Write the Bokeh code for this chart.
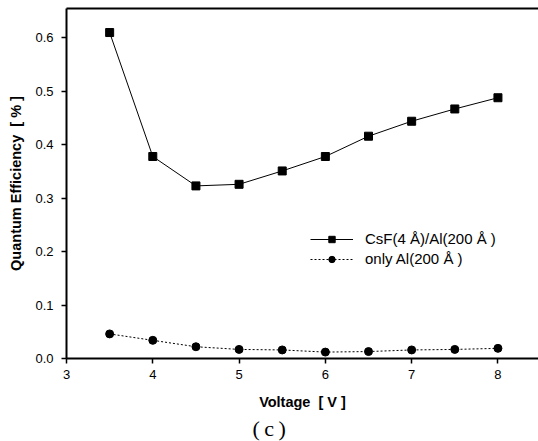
from bokeh.plotting import figure
from bokeh.models import Range1d, LinearAxis, Legend, LegendItem, Title, FixedTicker, NumeralTickFormatter
from bokeh.embed import file_html
from bokeh.resources import INLINE

# Voltage sweep and quantum efficiency (%) for the two cathodes
voltage = [3.5, 4.0, 4.5, 5.0, 5.5, 6.0, 6.5, 7.0, 7.5, 8.0]
qe_csf_al = [0.610, 0.378, 0.323, 0.326, 0.351, 0.378, 0.416, 0.444, 0.467, 0.488]
qe_al_only = [0.046, 0.034, 0.022, 0.017, 0.016, 0.012, 0.013, 0.016, 0.017, 0.019]
x_ticks = [3, 4, 5, 6, 7, 8]
y_ticks = [0.0, 0.1, 0.2, 0.3, 0.4, 0.5, 0.6]
series_labels = ["CsF(4 Å)/Al(200 Å )", "only Al(200 Å )"]

FONT = "Liberation Sans"
NB = "\u00a0"

p = figure(width=538, height=441, output_backend="svg", toolbar_location=None,
           x_range=Range1d(3, 8.47), y_range=Range1d(0, 0.655),
           min_border_left=66, min_border_right=0, min_border_top=8, min_border_bottom=83)
p.outline_line_color = None
p.grid.visible = False
p.background_fill_color = "white"
p.border_fill_color = "white"

for ax in (p.xaxis[0], p.yaxis[0]):
    ax.axis_line_width = 2
    ax.axis_line_color = "black"
    ax.major_tick_line_width = 1.5
    ax.major_tick_in = 0
    ax.major_tick_out = 5
    ax.minor_tick_line_color = None
    ax.major_label_text_font = FONT
    ax.major_label_text_font_size = "13px"
    ax.major_label_text_color = "black"
    ax.axis_label_text_font = FONT
    ax.axis_label_text_font_style = "bold"
    ax.axis_label_text_font_size = "14.5px"
    ax.axis_label_text_color = "black"

p.xaxis.ticker = FixedTicker(ticks=x_ticks)
p.yaxis.ticker = FixedTicker(ticks=y_ticks)
p.yaxis.formatter = NumeralTickFormatter(format="0.0")
p.xaxis.axis_label = "Voltage" + NB + NB + "[" + NB + "V" + NB + "]"
p.yaxis.axis_label = "Quantum" + NB + "Efficiency" + NB + NB + "[" + NB + "%" + NB + "]"
p.xaxis.major_label_standoff = 6
p.xaxis.axis_label_standoff = 12
p.yaxis.major_label_standoff = 8
p.yaxis.axis_label_standoff = 8

# top frame line
top = LinearAxis(axis_line_width=2, major_tick_line_color=None, minor_tick_line_color=None,
                 major_label_text_font_size="0px", ticker=FixedTicker(ticks=[]))
p.add_layout(top, "above")

l1 = p.line(voltage, qe_csf_al, line_color="black", line_width=1)
m1 = p.scatter(voltage, qe_csf_al, marker="square", size=8, fill_color="black", line_color="black")
l2 = p.line(voltage, qe_al_only, line_color="black", line_width=1, line_dash="2 2")
m2 = p.scatter(voltage, qe_al_only, marker="circle", size=8, fill_color="black", line_color="black")

legend = Legend(items=[LegendItem(label=series_labels[0], renderers=[l1, m1]),
                       LegendItem(label=series_labels[1], renderers=[l2, m2])],
                location=(244, 91), border_line_color=None, background_fill_alpha=0,
                padding=0, margin=0, spacing=3, glyph_width=43, glyph_height=16,
                label_height=16, label_standoff=12,
                label_text_font=FONT, label_text_font_size="15px", label_text_color="black")
p.add_layout(legend, "center")

# panel caption under the x-axis title
caption = Title(text="(\u2009c\u2009)", align="left", offset=186, text_font="Liberation Serif",
                text_font_size="22px", text_font_style="normal", text_color="black",
                standoff=2)
p.add_layout(caption, "below")

with open("out.html", "w") as f:
    f.write(file_html(p, INLINE))
